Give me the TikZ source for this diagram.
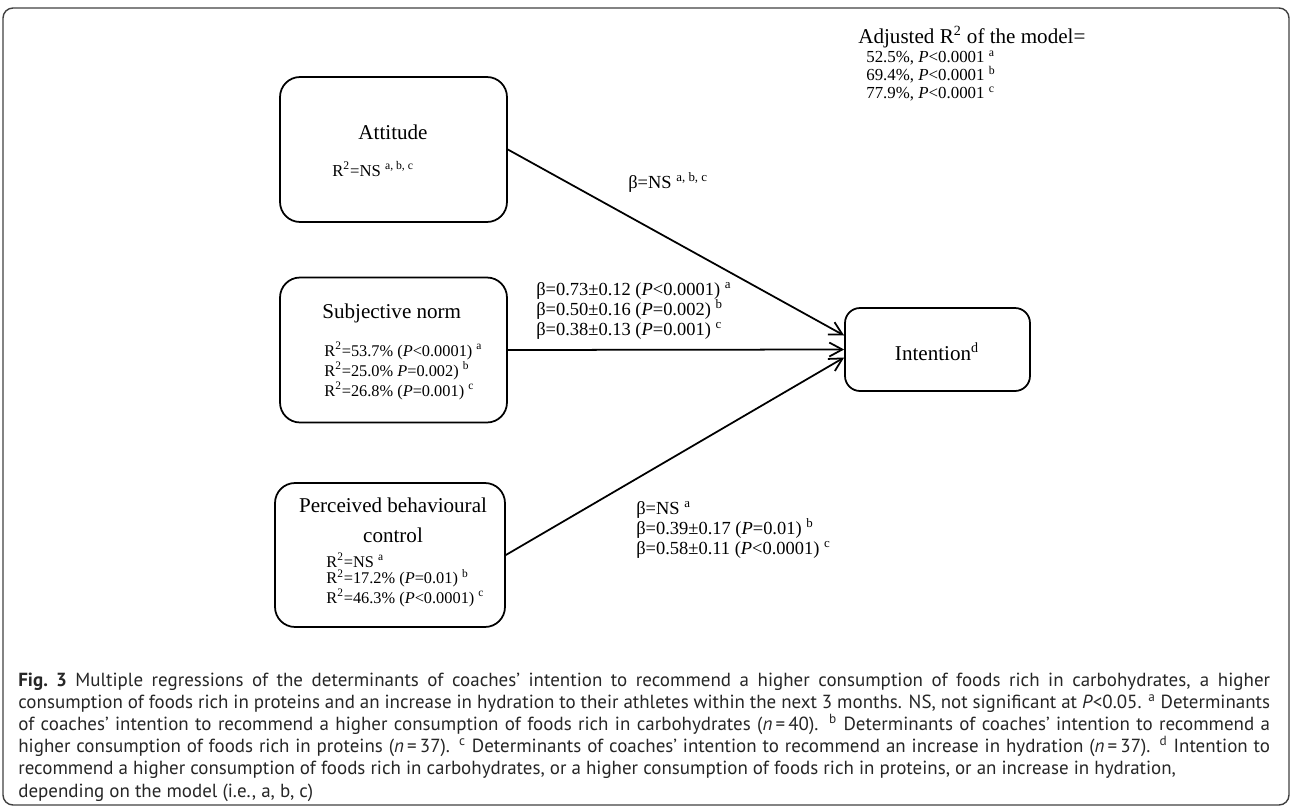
\documentclass[tikz,border=0pt]{standalone}
\usepackage{fontspec}
\setmainfont{Liberation Serif}
\newfontfamily\capfont{PT Sans}
\usetikzlibrary{arrows.meta}

\newcommand{\sups}[1]{\textsuperscript{#1}}

\tikzset{
  factor/.style={draw, line width=1pt, rounded corners=0.4cm, inner sep=0pt,
    minimum width=4.54cm, minimum height=2.9cm},
  bigtext/.style={inner sep=0pt, font=\fontsize{12}{14}\selectfont},
  stat/.style={anchor=west, align=left, inner sep=0pt},
  link/.style={-{Straight Barb[length=0.26cm,width=0.28cm]}, line width=1pt},
}

\begin{document}
\begin{tikzpicture}[x=0.02cm, y=-0.02cm]
\useasboundingbox (0,0) rectangle (1292,808);
\draw[rounded corners=0.2cm, line width=0.8pt, draw=black!75] (3,8) rectangle (1289,805);

% the three determinants
\node[factor] (att) at (393.5,149.5) {};
\node[bigtext] (attname) at (393,132) {Attitude};
\node[stat, font=\fontsize{9.5}{8.3}\selectfont] (attr) at (332,169) {R\sups{2}=NS \sups{a, b, c}};

\node[factor] (subj) at (393.5,350) {};
\node[bigtext, anchor=west] (subjname) at (322,313) {Subjective norm};
\node[stat, font=\fontsize{9.3}{8.6}\selectfont] (subjr) at (324,371)
  {R\sups{2}=53.7\% (\textit{P}<0.0001) \sups{a}\\
   R\sups{2}=25.0\% \textit{P}=0.002) \sups{b}\\
   R\sups{2}=26.8\% (\textit{P}=0.001) \sups{c}};

\node[factor, minimum width=4.6cm, minimum height=2.88cm] (pbc) at (390,555) {};
\node[bigtext, align=center, font=\fontsize{12}{17}\selectfont] (pbcname) at (393,520)
  {Perceived behavioural\\control};
\node[stat, font=\fontsize{9.3}{9.4}\selectfont] (pbcr) at (326,580)
  {R\sups{2}=NS \sups{a}\\
   R\sups{2}=17.2\% (\textit{P}=0.01) \sups{b}\\
   R\sups{2}=46.3\% (\textit{P}<0.0001) \sups{c}};

% outcome
\node[factor, rounded corners=0.3cm, minimum width=3.7cm, minimum height=1.66cm] (intent) at (937.5,349.5) {};
\node[bigtext] (intentname) at (937,352) {Intention\sups{d}};

\draw[link] (att.east) -- ([yshift=0.28cm]intent.west);
\draw[link] (subj.east) -- (intent.west);
\draw[link] (pbc.east) -- ([yshift=-0.16cm]intent.west);

% path coefficients
\begin{scope}[font=\fontsize{10.5}{11.4}\selectfont]
\node[stat] (batt) at (628,182) {β=NS \sups{a, b, c}};
\node[stat] (bsubj) at (536,311)
  {β=0.73±0.12 (\textit{P}<0.0001) \sups{a}\\
   β=0.50±0.16 (\textit{P}=0.002) \sups{b}\\
   β=0.38±0.13 (\textit{P}=0.001) \sups{c}};
\node[stat] (bpbc) at (636,530)
  {β=NS \sups{a}\\
   β=0.39±0.17 (\textit{P}=0.01) \sups{b}\\
   β=0.58±0.11 (\textit{P}<0.0001) \sups{c}};
\end{scope}

\node[bigtext, anchor=west] (adj) at (858,37) {Adjusted R\sups{2} of the model=};
\node[stat, font=\fontsize{9.6}{10.2}\selectfont] (adjr) at (866,76)
  {52.5\%, \textit{P}<0.0001 \sups{a}\\
   69.4\%, \textit{P}<0.0001 \sups{b}\\
   77.9\%, \textit{P}<0.0001 \sups{c}};

% caption
\node[stat, align=justify, text width=25.04cm, text=black!85,
      font=\capfont\fontsize{10.8}{12.6}\selectfont] (caption) at (18,737)
  {\textbf{Fig.\ 3} Multiple regressions of the determinants of coaches’ intention to recommend a higher consumption of foods rich in carbohydrates, a higher\linebreak
   consumption of foods rich in proteins and an increase in hydration to their athletes within the next 3 months. NS, not significant at \textit{P}<0.05. \sups{a} Determinants\linebreak
   of coaches’ intention to recommend a higher consumption of foods rich in carbohydrates (\textit{n}\,=\,40). \sups{b} Determinants of coaches’ intention to recommend a\linebreak
   higher consumption of foods rich in proteins (\textit{n}\,=\,37). \sups{c} Determinants of coaches’ intention to recommend an increase in hydration (\textit{n}\,=\,37). \sups{d} Intention to\linebreak
   recommend a higher consumption of foods rich in carbohydrates, or a higher consumption of foods rich in proteins, or an increase in hydration,\newline
   depending on the model (i.e., a, b, c)};
\end{tikzpicture}
\end{document}
